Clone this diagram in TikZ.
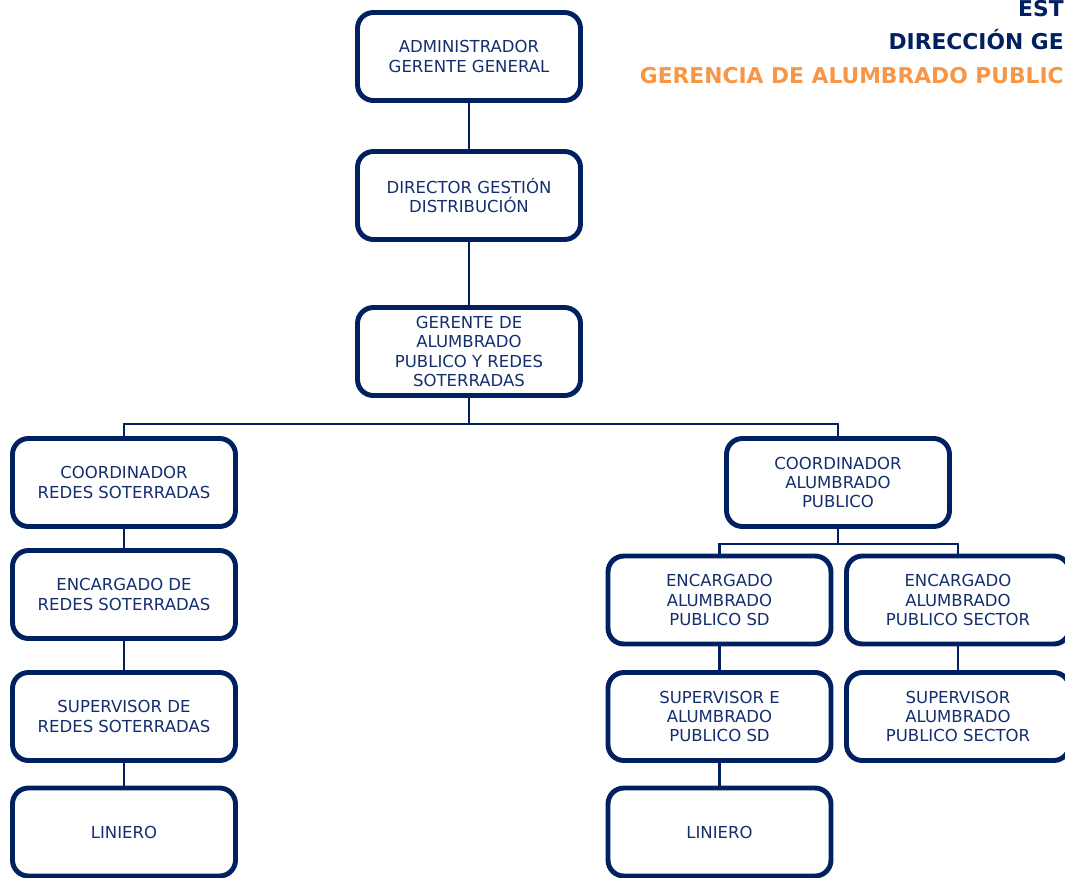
\documentclass[tikz,border=0pt]{standalone}
\usepackage{fontspec}
\setmainfont{DejaVu Sans}
\definecolor{navy}{HTML}{002060}
\definecolor{navytext}{HTML}{142E6E}
\definecolor{orangetitle}{HTML}{F79646}
\tikzset{
  unitbox/.style={draw=navy, line width=2.8pt, rounded corners=9pt, fill=white,
    minimum width=4.46cm, minimum height=1.76cm, align=center, text=navytext,
    font=\fontsize{9.4}{11}\selectfont, inner sep=2pt},
  link/.style={draw=navy, line width=1.2pt},
  titleline/.style={anchor=base east, inner sep=0pt, font=\fontsize{12.4}{14}\selectfont\bfseries}
}
\begin{document}
\begin{tikzpicture}[x=0.02cm, y=-0.02cm]

% 1. Frame of the page
\clip (0,0) rectangle (1065,877);

% 2. Heading at the top right
\node[titleline, text=navy] (headA) at (1064,16) {EST};
\node[titleline, text=navy] (headB) at (1064,49) {DIRECCIÓN GE};
\node[titleline, text=orangetitle] (headC) at (1064,83) {GERENCIA DE ALUMBRADO PUBLIC};

% 3. Top of the chart
\node[unitbox] (adm) at (469,56.5) {ADMINISTRADOR\\GERENTE GENERAL};
\node[unitbox] (dir) at (469,195.5) {DIRECTOR GESTIÓN\\DISTRIBUCIÓN};
\node[unitbox] (ger) at (469,351.5) {GERENTE DE\\ALUMBRADO\\PUBLICO Y REDES\\SOTERRADAS};

% 4. Left branch (redes soterradas)
\node[unitbox] (crs) at (124,482.5) {COORDINADOR\\REDES SOTERRADAS};
\node[unitbox] (ers) at (124,594.5) {ENCARGADO DE\\REDES SOTERRADAS};
\node[unitbox] (srs) at (124,716.5) {SUPERVISOR DE\\REDES SOTERRADAS};
\node[unitbox] (linA) at (124,832) {LINIERO};

% 5. Right branch (alumbrado publico)
\node[unitbox] (cap) at (838,482.5) {COORDINADOR\\ALUMBRADO\\PUBLICO};
\node[unitbox] (eapsd) at (719.5,600) {ENCARGADO\\ALUMBRADO\\PUBLICO SD};
\node[unitbox] (eaps) at (958,600) {ENCARGADO\\ALUMBRADO\\PUBLICO SECTOR};
\node[unitbox] (sapsd) at (719.5,716.5) {SUPERVISOR E\\ALUMBRADO\\PUBLICO SD};
\node[unitbox] (saps) at (958,716.5) {SUPERVISOR\\ALUMBRADO\\PUBLICO SECTOR};
\node[unitbox] (linB) at (719.5,832) {LINIERO};

% 6. Bus points
\coordinate (bus) at (469,424);
\coordinate (apbus) at (838,544);

% 7. Connectors
\draw[link] (adm.south) -- (dir.north);
\draw[link] (dir.south) -- (ger.north);
\draw[link] (ger.south) -- (bus);
\draw[link] (crs.north) |- (bus) -| (cap.north);
\draw[link] (crs.south) -- (ers.north);
\draw[link] (ers.south) -- (srs.north);
\draw[link] (srs.south) -- (linA.north);
\draw[link] (cap.south) -- (apbus);
\draw[link] (eapsd.north) |- (apbus) -| (eaps.north);
\draw[link] (eapsd.south) -- (sapsd.north);
\draw[link] (sapsd.south) -- (linB.north);
\draw[link] (eaps.south) -- (saps.north);

\end{tikzpicture}
\end{document}
